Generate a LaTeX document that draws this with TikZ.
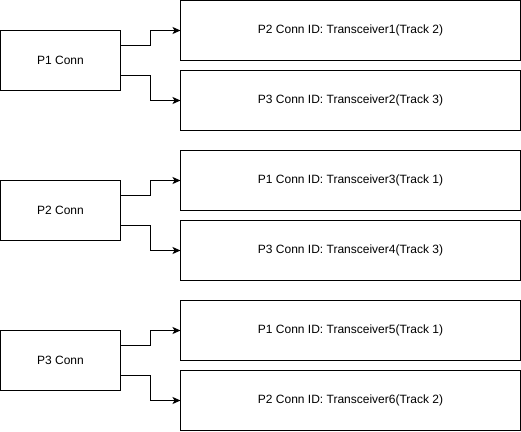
\documentclass[tikz,border=0pt]{standalone}
\usepackage{fontspec}
\setmainfont{Liberation Sans}
\usetikzlibrary{arrows.meta}

\tikzset{
  connbox/.style={draw, line width=1pt, inner sep=0pt, outer sep=0pt,
    minimum width=120pt, minimum height=60pt, font=\fontsize{12}{14}\selectfont},
  idbox/.style={connbox, minimum width=340pt},
  link/.style={line width=1pt, -{Stealth[length=8pt,width=7pt,inset=2pt]}}
}

\begin{document}
\begin{tikzpicture}[x=1pt,y=-1pt]
  \useasboundingbox (-0.5,-0.5) rectangle (520.5,430.5);

  \foreach \i/\y/\pa/\ta/\ka/\pb/\tb/\kb in
    {1/0/2/1/2/3/2/3, 2/150/1/3/1/3/4/3, 3/300/1/5/1/2/6/2}
  {
    \node [connbox] (conn\i) at (60,\y+60) {P\i{} Conn};
    \node [idbox] (id\i a) at (350,\y+30) {P\pa{} Conn ID: Transceiver\ta(Track \ka)};
    \node [idbox] (id\i b) at (350,\y+100) {P\pb{} Conn ID: Transceiver\tb(Track \kb)};
    \draw [link] ([yshift=15pt]conn\i.east) -- ++(30,0) |- (id\i a.west);
    \draw [link] ([yshift=-15pt]conn\i.east) -- ++(30,0) |- (id\i b.west);
  }

\end{tikzpicture}
\end{document}
